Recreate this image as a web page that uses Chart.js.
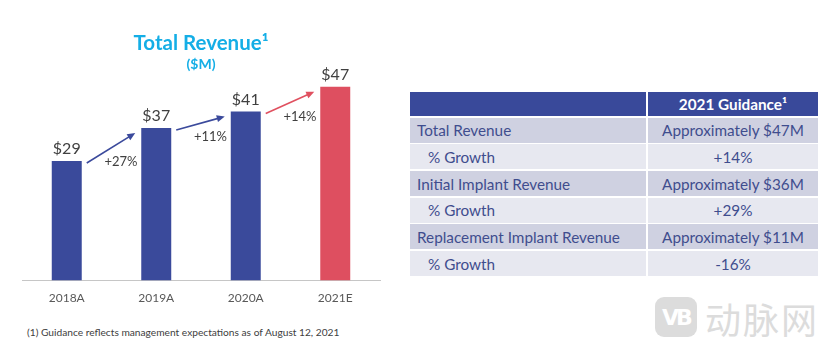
<!DOCTYPE html>
<html>
<head>
<meta charset="utf-8">
<script src="https://cdn.jsdelivr.net/npm/chart.js@4.4.0/dist/chart.umd.min.js"></script>
<style>
  body { margin: 0; background: #fff; width: 831px; height: 347px; overflow: hidden; position: relative; font-family: Lato, sans-serif; }
  #chartBox { position: absolute; left: 0; top: 0; width: 400px; height: 315px; }
  #guidance {
    position: absolute; left: 410px; top: 92px;
    display: grid; grid-template-columns: 236px 170px; grid-template-rows: 24px repeat(6, 25px);
    gap: 1.7px 2px; font-size: 15.3px; color: #3f4d8e;
  }
  #guidance div { display: flex; align-items: center; white-space: nowrap; }
  #guidance .head { background: #39499a; color: #fff; font-weight: bold; justify-content: center; }
  #guidance .dark { background: #cfd1e1; }
  #guidance .light { background: #e7e8f0; }
  #guidance .val { justify-content: center; }
  #guidance .lbl { padding-left: 7px; }
  #guidance .sub { padding-left: 18px; }
  #note { position: absolute; left: 27px; top: 326px; font-size: 10.2px; color: #404040; white-space: nowrap; }
  #mark { position: absolute; left: 655px; top: 297px; width: 42px; height: 40px; border-radius: 9px; background: #dcdcdc;
    color: #fff; font: bold 22px "DejaVu Sans", sans-serif; display: flex; align-items: center; justify-content: center; letter-spacing: -3px; }
  #markText { position: absolute; left: 705px; top: 292px; font: 36px "Noto Sans CJK SC", sans-serif; color: #dcdcdc; letter-spacing: 2px; }
</style>
</head>
<body>
<div id="chartBox"><canvas id="revenueChart"></canvas></div>
<div id="guidance"></div>
<div id="note">(1) Guidance reflects management expectations as of August 12, 2021</div>
<div id="mark">VB</div>
<div id="markText">动脉网</div>
<script>
// revenue bars
const years = ['2018A', '2019A', '2020A', '2021E'];
const revenue = [29, 37, 41, 47];
const growth = ['+27%', '+11%', '+14%'];
const barColors = ['#3a4a9b', '#3a4a9b', '#3a4a9b', '#de4f60'];
const arrowColors = ['#3b4a9c', '#3b4a9c', '#e0505f'];

// guidance table
const guidanceItems = ['Total Revenue', '% Growth', 'Initial Implant Revenue', '% Growth', 'Replacement Implant Revenue', '% Growth'];
const guidanceValues = ['Approximately $47M', '+14%', 'Approximately $36M', '+29%', 'Approximately $11M', '-16%'];

const table = document.getElementById('guidance');
table.innerHTML = '<div class="head"></div><div class="head">2021 Guidance¹</div>';
guidanceItems.forEach((item, i) => {
  const shade = i % 2 === 0 ? 'dark' : 'light';
  const indent = i % 2 === 0 ? 'lbl' : 'sub';
  table.innerHTML += `<div class="${shade} ${indent}">${item}</div><div class="${shade} val">${guidanceValues[i]}</div>`;
});

// value labels, growth arrows and percentages
const barNotes = {
  id: 'barNotes',
  afterDatasetsDraw(chart) {
    const ctx = chart.ctx;
    const bars = chart.getDatasetMeta(0).data;
    ctx.save();
    ctx.textAlign = 'center';
    ctx.textBaseline = 'middle';
    ctx.fillStyle = '#404040';
    ctx.font = '16px Lato';
    bars.forEach((bar, i) => {
      ctx.fillText('$' + revenue[i], bar.x, bar.y - 12);
    });

    for (let i = 0; i < bars.length - 1; i++) {
      const a = bars[i], b = bars[i + 1];
      const x1 = a.x + a.width / 2 + 5, y1 = a.y + 2;
      const x2 = b.x - b.width / 2 - 6, y2 = b.y + 5;
      const ang = Math.atan2(y2 - y1, x2 - x1);
      ctx.strokeStyle = arrowColors[i];
      ctx.fillStyle = arrowColors[i];
      ctx.lineWidth = 1.6;
      ctx.beginPath();
      ctx.moveTo(x1, y1);
      ctx.lineTo(x2 - 5 * Math.cos(ang), y2 - 5 * Math.sin(ang));
      ctx.stroke();
      ctx.beginPath();
      ctx.moveTo(x2, y2);
      ctx.lineTo(x2 - 8 * Math.cos(ang) + 3.5 * Math.sin(ang), y2 - 8 * Math.sin(ang) - 3.5 * Math.cos(ang));
      ctx.lineTo(x2 - 8 * Math.cos(ang) - 3.5 * Math.sin(ang), y2 - 8 * Math.sin(ang) + 3.5 * Math.cos(ang));
      ctx.closePath();
      ctx.fill();

      ctx.fillStyle = '#404040';
      ctx.font = '13px Lato';
      ctx.fillText(growth[i], (x1 + x2) / 2 + 10, (y1 + y2) / 2 + 14);
    }
    ctx.restore();
  }
};

new Chart(document.getElementById('revenueChart'), {
  type: 'bar',
  data: {
    labels: years,
    datasets: [{
      data: revenue,
      backgroundColor: barColors,
      categoryPercentage: 1,
      barPercentage: 0.335
    }]
  },
  options: {
    responsive: true,
    maintainAspectRatio: false,
    animation: false,
    devicePixelRatio: 1,
    layout: { padding: { left: 22, right: 20, top: 0, bottom: 0 } },
    plugins: {
      legend: { display: false },
      tooltip: { enabled: false },
      title: {
        display: true,
        text: 'Total Revenue¹',
        color: '#14aee6',
        font: { family: 'Lato', size: 20.5, weight: 'bold' },
        padding: { top: 31, bottom: 0 }
      },
      subtitle: {
        display: true,
        text: '($M)',
        color: '#14aee6',
        font: { family: 'Lato', size: 14, weight: 'bold' },
        padding: { top: 0, bottom: 2 }
      }
    },
    scales: {
      x: {
        grid: { display: false, drawTicks: false },
        border: { display: true, color: '#c6c6c6', width: 1 },
        ticks: { color: '#595959', font: { family: 'Lato', size: 12 }, padding: 10 }
      },
      y: {
        display: false,
        min: 0,
        max: 50
      }
    }
  },
  plugins: [barNotes]
});
</script>
</body>
</html>
